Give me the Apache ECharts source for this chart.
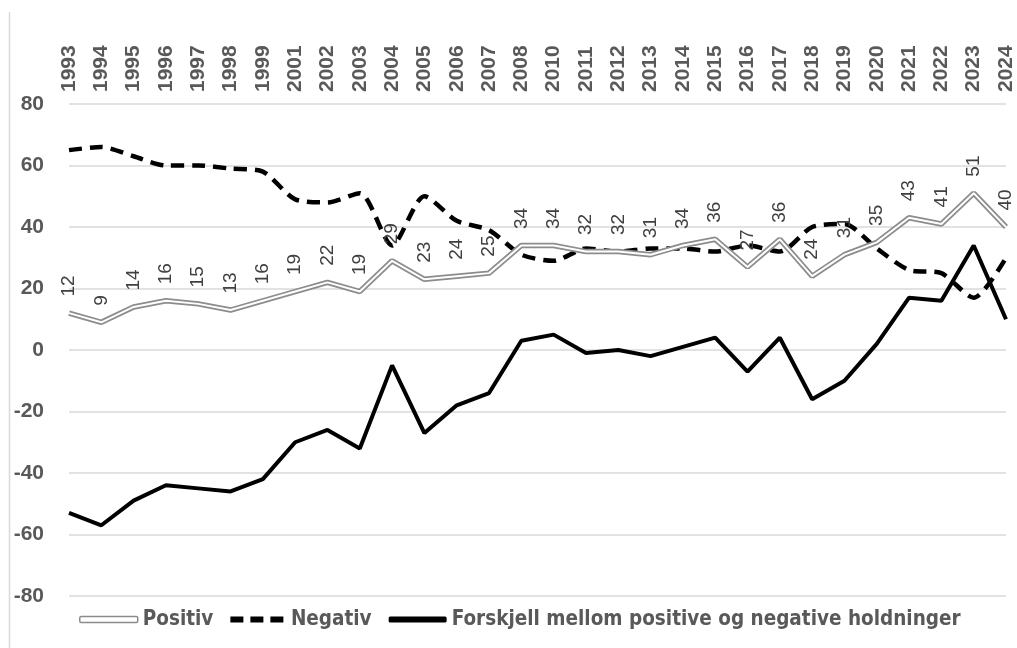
<!DOCTYPE html>
<html><head><meta charset="utf-8">
<script src="https://cdn.jsdelivr.net/npm/echarts@6/dist/echarts.min.js"></script>
<style>html,body{margin:0;padding:0;background:#fff}#c{width:1017px;height:648px}</style>
</head><body><div id="c"></div>
<script>
const years = ['1993','1994','1995','1996','1997','1998','1999','2001','2002','2003','2004','2005','2006','2007','2008','2010','2011','2012','2013','2014','2015','2016','2017','2018','2019','2020','2021','2022','2023','2024'];
const positiv = [12,9,14,16,15,13,16,19,22,19,29,23,24,25,34,34,32,32,31,34,36,27,36,24,31,35,43,41,51,40];
const negativ = [65,66,63,60,60,59,58,49,48,51,34,50,42,39,31,29,33,32,33,33,32,34,32,40,41,33,26,25,17,30];
const forskjell = [-53,-57,-49,-44,-45,-46,-42,-30,-26,-32,-5,-27,-18,-14,3,5,-1,0,-2,1,4,-7,4,-16,-10,2,17,16,34,10];
const yTicks = [-80,-60,-40,-20,0,20,40,60,80];

const chart = echarts.init(document.getElementById('c'), null, {renderer:'canvas'});
chart.setOption({
  animation:false,
  backgroundColor:'#fff',
  graphic:[{type:'line',shape:{x1:9.5,y1:12,x2:9.5,y2:648},style:{stroke:'#d9d9d9',lineWidth:1.5}}],
  grid:{left:69,right:11,top:104,bottom:52,containLabel:false},
  xAxis:{type:'category',data:years,position:'top',boundaryGap:false,
    axisLine:{show:false},axisTick:{show:false},
    axisLabel:{rotate:90,interval:0,margin:12,color:'#595959',fontWeight:'bold',fontSize:21,fontFamily:'Liberation Sans'}},
  yAxis:{type:'value',min:yTicks[0],max:yTicks[yTicks.length-1],interval:20,
    axisLine:{show:false},axisTick:{show:false},
    splitLine:{lineStyle:{color:'#d9d9d9',width:1.5}},
    axisLabel:{color:'#595959',fontWeight:'bold',fontSize:21,fontFamily:'Liberation Sans',margin:25}},
  legend:{top:604,left:74,itemWidth:58,itemHeight:6,itemGap:17,
    textStyle:{color:'#595959',fontWeight:'bold',fontSize:20.5,fontFamily:'DejaVu Sans Condensed, Liberation Sans'},
    data:[
      {name:'Positiv',icon:'roundRect',itemStyle:{color:'#fff',borderColor:'#8c8c8c',borderWidth:1.5}},
      {name:'Negativ',icon:'path://M0,0H13V6H0Z M20,0H33V6H20Z M40,0H53V6H40Z',itemStyle:{color:'#000'}},
      {name:'Forskjell mellom positive og negative holdninger',icon:'roundRect',itemStyle:{color:'#000'}}
    ]},
  series:[
    {name:'Negativ',type:'line',data:negativ,symbol:'none',smooth:0.25,
      lineStyle:{color:'#000',width:4.5,type:[13,8]},itemStyle:{color:'#000'},z:3},
    {name:'Positiv',type:'line',data:positiv,symbol:'none',
      lineStyle:{color:'#8c8c8c',width:5.5},itemStyle:{color:'#8c8c8c'},z:4},
    {name:'Positiv',type:'line',data:positiv,symbol:'circle',symbolSize:1,showSymbol:true,
      lineStyle:{color:'#fff',width:2},itemStyle:{color:'rgba(255,255,255,0)'},z:5,silent:true,
      labelLayout:{hideOverlap:false},
      label:{show:true,position:'top',rotate:90,distance:16,color:'#404040',fontSize:19,fontFamily:'Liberation Sans',align:'left',verticalAlign:'middle'}},
    {name:'Forskjell mellom positive og negative holdninger',type:'line',data:forskjell,symbol:'none',
      lineStyle:{color:'#000',width:4},itemStyle:{color:'#000'},z:6}
  ]
});
</script></body></html>
